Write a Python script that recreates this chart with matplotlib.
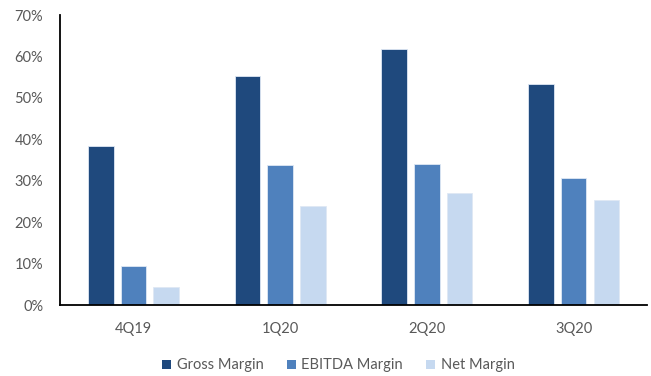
import matplotlib.pyplot as plt
import numpy as np
from matplotlib.patches import Patch

plt.rcParams['font.family'] = ['Lato', 'DejaVu Sans']

# Data
quarters = ['4Q19', '1Q20', '2Q20', '3Q20']
gross_margin = [38.3, 55.4, 61.7, 53.3]
ebitda_margin = [9.4, 33.8, 34.0, 30.8]
net_margin = [4.3, 23.9, 27.2, 25.5]

series = ['Gross Margin', 'EBITDA Margin', 'Net Margin']
colors = ['#1F497D', '#4F81BD', '#C6D9F0']
text_color = '#595959'

fig = plt.figure(figsize=(6.51, 3.76), dpi=100)
ax = fig.add_axes([0.0922, 0.188, 0.9017, 0.772])

x = np.arange(len(quarters))
width = 0.175
pitch = 0.223
for i, (vals, col) in enumerate(zip([gross_margin, ebitda_margin, net_margin], colors)):
    ax.bar(x + (i - 1) * pitch, vals, width, color=col, edgecolor='#dfe8f4',
           linewidth=0.6, zorder=2)

ax.set_xlim(-0.5, 3.5)
ax.set_ylim(0, 70)
ax.set_yticks(range(0, 71, 10))
ax.set_yticklabels([f'{v}%' for v in range(0, 71, 10)])
ax.set_xticks(x)
ax.set_xticklabels(quarters)
ax.tick_params(axis='both', length=0, labelsize=10.5, labelcolor=text_color)
ax.tick_params(axis='y', pad=12)
ax.tick_params(axis='x', pad=12)

for s in ['top', 'right']:
    ax.spines[s].set_visible(False)
for s in ['left', 'bottom']:
    ax.spines[s].set_color('black')
    ax.spines[s].set_linewidth(1.3)

handles = [Patch(facecolor=c, edgecolor='none') for c in colors]
leg = fig.legend(handles, series, loc='center', bbox_to_anchor=(0.52, 0.028),
                 ncol=3, frameon=False, fontsize=10.5, handlelength=0.6,
                 handleheight=0.6, handletextpad=0.4, columnspacing=1.6)
for t in leg.get_texts():
    t.set_color(text_color)

fig.savefig('out.png', dpi=100)
